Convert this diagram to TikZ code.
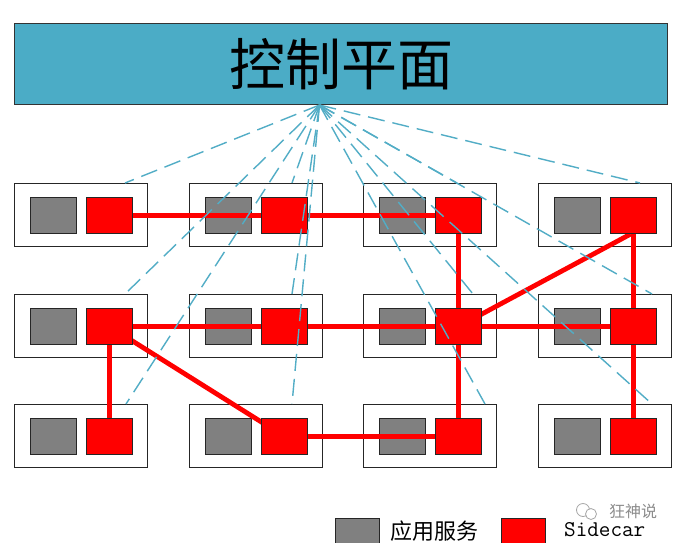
\documentclass[tikz,border=0pt]{standalone}
\usepackage{fontspec}
\newfontfamily\cjk{Noto Sans CJK SC}
\usetikzlibrary{calc}
\definecolor{cpfill}{HTML}{4BACC6}
\definecolor{dashc}{HTML}{52ADC6}
\definecolor{appgray}{HTML}{808080}
\pgfdeclarelayer{bg}
\pgfdeclarelayer{mid}
\pgfsetlayers{bg,mid,main}
\begin{document}
\begin{tikzpicture}[x=1pt,y=-1pt,
  pod/.style={draw=black!85, line width=1.2pt, fill=white, minimum width=133pt, minimum height=63pt, inner sep=0pt, anchor=north west},
  app/.style={draw=black!85, line width=1.1pt, fill=appgray, minimum width=46pt, minimum height=36pt, inner sep=0pt, anchor=north west},
  car/.style={draw=black!85, line width=1.1pt, fill=red, minimum width=46pt, minimum height=36pt, inner sep=0pt, anchor=north west},
  link/.style={red, line width=4.8pt},
  ctrl/.style={dashc, line width=1.4pt, dash pattern=on 17pt off 8pt},
  legsq/.style={draw=black!85, line width=1.1pt, minimum width=44pt, minimum height=34pt, inner sep=0pt, anchor=north west}]
\useasboundingbox (0,0) rectangle (681,542);
\begin{pgfonlayer}{bg}
\fill[white] (0,0) rectangle (681,542);
\end{pgfonlayer}
% control plane
\node[draw=black!80, fill=cpfill, line width=1pt, minimum width=653pt, minimum height=81pt, inner sep=0pt, anchor=north west, font=\cjk\fontsize{56}{60}\selectfont] (cp) at (14,23) {控制平面};
\coordinate (hub) at ($(cp.south)+(-21.5,0)$);
% pods
\foreach \r/\y in {1/183,2/294,3/404}{
  \foreach \c/\x in {1/14,2/189,3/363,4/538}{
    \begin{pgfonlayer}{bg}
      \node[pod] (p\r\c) at (\x,\y) {};
      \node[app] (g\r\c) at (\x+16,\y+14) {};
    \end{pgfonlayer}
    \node[car] (s\r\c) at (\x+72,\y+14) {};
  }
}
% data plane links
\begin{pgfonlayer}{mid}
\draw[link] (s11.center) -- (s12.center) -- (s13.center);
\draw[link] (s21.center) -- (s22.center) -- (s23.center) -- (s24.center);
\draw[link] (s32.center) -- (s33.center);
\draw[link] (s13.center) -- (s23.center) -- (s33.center);
\draw[link] (s14.center) -- (s24.center) -- (s34.center);
\draw[link] (s21.center) -- (s31.center);
\draw[link] (s21.center) -- (s32.center);
\draw[link] (s23.center) -- ($(s14.south)+(-3,0)$);
\end{pgfonlayer}
% control links
\foreach \n/\dx in {11/111,12/103,13/94,14/102,21/111,22/103,23/110,24/114,31/112,32/103,33/122,34/114}{
  \draw[ctrl] (hub) -- ($(p\n.north west)+(\dx,0)$);
}
% legend
\node[legsq, fill=appgray] (legapp) at (335,518) {};
\node[anchor=west, inner sep=0pt, font=\cjk\fontsize{22}{26}\selectfont] (legapptxt) at (390,531) {应用服务};
\node[legsq, fill=red] (legcar) at (501,518) {};
\node[anchor=base west, inner sep=0pt, font=\ttfamily\fontsize{22.5}{26}\selectfont] (legcartxt) at (564,536) {Sidecar};
% watermark
\draw[black!35, line width=0.8pt] (583,510) circle (6.5pt);
\draw[black!35, line width=0.8pt, fill=white] (591,514) circle (5.5pt);
\node[anchor=west, inner sep=0pt, text=black!45, font=\cjk\fontsize{16}{18}\selectfont] (wm) at (609,511) {狂神说};
\end{tikzpicture}
\end{document}
